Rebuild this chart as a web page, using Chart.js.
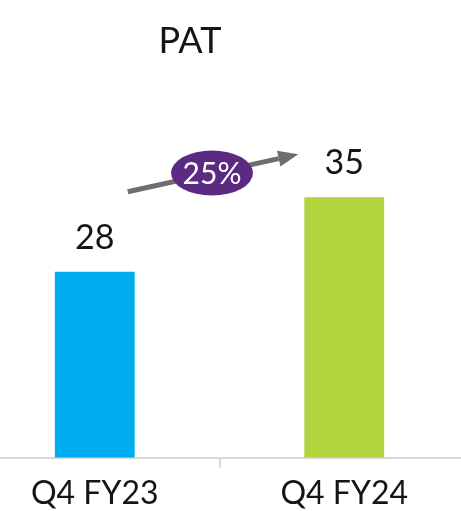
<!DOCTYPE html>
<html>
<head>
<meta charset="utf-8">
<script src="https://cdn.jsdelivr.net/npm/chart.js@4"></script>
<style>
  html, body { margin: 0; padding: 0; background: #fff; overflow: hidden; }
  #wrap { position: relative; width: 461px; height: 511px; overflow: hidden; }
  #pat { position: absolute; left: -30px; top: 0; }
</style>
</head>
<body>
<div id="wrap">
  <canvas id="pat" width="499" height="520"></canvas>
</div>
<script>
const categories = ['Q4 FY23', 'Q4 FY24'];
const patValues = [28, 35];
const barColors = ['#00AEEF', '#B2D33E'];
const chartTitle = 'PAT';

const growthPct = Math.round((patValues[1] / patValues[0] - 1) * 100);

// labels above bars, the title and the growth arrow with its badge
const overlay = {
  id: 'overlay',
  afterDatasetsDraw(chart) {
    const ctx = chart.ctx;
    const bars = chart.getDatasetMeta(0).data;
    ctx.save();
    ctx.fillStyle = '#151515';
    ctx.textAlign = 'center';
    ctx.textBaseline = 'alphabetic';

    ctx.font = '36px Lato';
    ctx.fillText(chartTitle, 220, 53);

    ctx.font = '34px Lato';
    bars.forEach((bar, i) => {
      ctx.fillText(String(patValues[i]), bar.x, bar.y - 23);
    });

    // growth arrow
    const b0 = bars[0], b1 = bars[1];
    const x0 = b0.x + 33, y0 = b0.y - 80;
    const x1 = b1.x - 46, y1 = b1.y - 43;
    const ang = Math.atan2(y1 - y0, x1 - x0);
    const head = 20, half = 8;
    const bx = x1 - head * Math.cos(ang), by = y1 - head * Math.sin(ang);
    ctx.strokeStyle = '#6E6E6E';
    ctx.fillStyle = '#6E6E6E';
    ctx.lineWidth = 5;
    ctx.beginPath();
    ctx.moveTo(x0, y0);
    ctx.lineTo(bx, by);
    ctx.stroke();
    ctx.beginPath();
    ctx.moveTo(x1, y1);
    ctx.lineTo(bx + half * Math.sin(ang), by - half * Math.cos(ang));
    ctx.lineTo(bx - half * Math.sin(ang), by + half * Math.cos(ang));
    ctx.closePath();
    ctx.fill();

    // badge
    const cx = (x0 + x1) / 2 - 1, cy = (y0 + y1) / 2;
    ctx.fillStyle = '#5C2A82';
    ctx.beginPath();
    ctx.ellipse(cx, cy, 41, 22.5, 0, 0, Math.PI * 2);
    ctx.fill();
    ctx.fillStyle = '#fff';
    ctx.font = '30px Lato';
    ctx.fillText(growthPct + '%', cx, cy + 11);
    ctx.restore();
  }
};

new Chart(document.getElementById('pat'), {
  type: 'bar',
  data: {
    labels: categories,
    datasets: [{
      data: patValues,
      backgroundColor: barColors,
      barPercentage: 0.32,
      categoryPercentage: 1
    }]
  },
  options: {
    responsive: false,
    devicePixelRatio: 1,
    animation: false,
    layout: { padding: { top: 38, left: 0, right: 0, bottom: 0 } },
    plugins: {
      legend: { display: false },
      tooltip: { enabled: false }
    },
    scales: {
      x: {
        offset: true,
        grid: {
          display: true,
          drawOnChartArea: false,
          tickLength: 10,
          color: '#D9D9D9',
          lineWidth: 2
        },
        border: { color: '#D9D9D9', width: 2 },
        ticks: {
          font: { family: 'Lato', size: 32 },
          color: '#151515',
          padding: 7
        }
      },
      y: { display: false, min: 10.5, max: 50 }
    }
  },
  plugins: [overlay]
});
</script>
</body>
</html>
